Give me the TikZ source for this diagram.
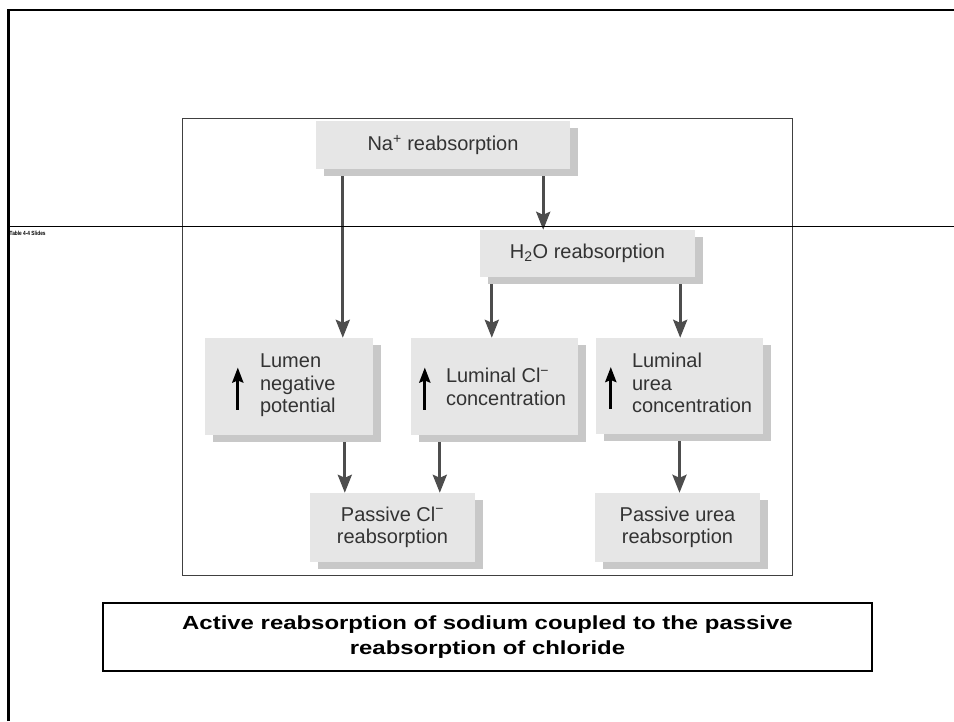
\documentclass[tikz,border=0pt]{standalone}
\usepackage{fontspec}
\setmainfont{Liberation Sans}
\newfontfamily\titlefont[FakeStretch=1.26]{Liberation Sans}
\newfontfamily\tagfont[FakeStretch=0.8]{Liberation Sans}
\usetikzlibrary{arrows.meta,shadows,calc}
\definecolor{boxfill}{HTML}{E6E6E6}
\definecolor{shadowgray}{HTML}{C8C8C8}
\definecolor{txtgray}{HTML}{333333}
\definecolor{arrgray}{HTML}{4D4D4D}
\begin{document}
\begin{tikzpicture}[x=1pt,y=-1pt,
  fbox/.style={draw=none, fill=boxfill, inner sep=0pt,
    drop shadow={shadow xshift=8pt, shadow yshift=-7pt, fill=shadowgray, opacity=1}},
  btext/.style={text=txtgray, font=\fontsize{20}{22.5}\selectfont, inner sep=0pt},
  flow/.style={draw=arrgray, line width=3pt, -{Stealth[length=18pt,width=14pt,inset=3pt]}},
  uparr/.style={draw=black, line width=3pt, -{Stealth[length=15pt,width=11pt,inset=2pt]}}
]
\useasboundingbox (0,0) rectangle (954,721);
\fill[white] (0,0) rectangle (954,721);

% inner picture frame
\draw[draw=black!75, line width=0.9pt] (182,118) rectangle (792,575);

% boxes
\node[fbox, btext, align=center, minimum width=254pt, minimum height=48pt] (na) at (443,145) {Na\textsuperscript{+} reabsorption};
\node[fbox, btext, align=center, minimum width=215pt, minimum height=47pt] (h2o) at (587.5,253.5) {H\textsubscript{2}O reabsorption};
\node[fbox, minimum width=168pt, minimum height=97pt] (lumen) at (289,386.5) {};
\node[fbox, minimum width=167pt, minimum height=97pt] (lcl) at (494.5,386.5) {};
\node[fbox, minimum width=167pt, minimum height=96pt] (urea) at (679.5,386) {};
\node[fbox, btext, align=center, minimum width=165pt, minimum height=69pt] (pcl) at (392.5,527.5) {Passive Cl\textsuperscript{−}\\reabsorption};
\node[fbox, btext, align=center, minimum width=165pt, minimum height=69pt] (purea) at (677.5,527.5) {Passive urea\\reabsorption};

% texts in the middle row
\node[btext, align=left, anchor=west] (lumentxt) at ($(lumen.west)+(55,-1)$) {Lumen\\negative\\potential};
\node[btext, align=left, anchor=west] (lcltxt) at ($(lcl.west)+(35,0.5)$) {Luminal Cl\textsuperscript{−}\\concentration};
\node[btext, align=left, anchor=west] (ureatxt) at ($(urea.west)+(36,-3)$) {Luminal\\urea\\concentration};

% up arrows inside boxes
\coordinate (u1) at ($(lumen.west)+(33,23)$);
\coordinate (u2) at ($(lcl.west)+(14,23)$);
\coordinate (u3) at ($(urea.west)+(15,23)$);
\draw[uparr] (u1) -- ++(0,-42);
\draw[uparr] (u2) -- ++(0,-42);
\draw[uparr] (u3) -- ++(0,-42);

% flow arrows
\coordinate (a1) at ($(na.south west)+(27,7)$);
\coordinate (a2) at ($(na.south east)+(-27,7)$);
\coordinate (a3) at ($(h2o.south west)+(12,7)$);
\coordinate (a4) at ($(h2o.south east)+(-15,7)$);
\coordinate (a5) at ($(lumen.south west)+(140,7)$);
\coordinate (a6) at ($(lcl.south west)+(29,7)$);
\coordinate (a7) at ($(urea.south)+(0,7)$);
\draw[flow] (a1) -- (a1 |- lumen.north);
\draw[flow] (a2) -- (a2 |- h2o.north);
\draw[flow] (a3) -- (a3 |- lcl.north);
\draw[flow] (a4) -- (a4 |- urea.north);
\draw[flow] (a5) -- (a5 |- pcl.north);
\draw[flow] (a6) -- (a6 |- pcl.north);
\draw[flow] (a7) -- (a7 |- purea.north);

% title box
\node[draw=black, line width=1.2pt, minimum width=769pt, minimum height=68pt, inner sep=0pt,
  font=\titlefont\bfseries\fontsize{19}{25}\selectfont, align=center] (title) at (487.5,637)
  {Active reabsorption of sodium coupled to the passive\\reabsorption of chloride};

% slide frame lines
\draw[line width=2.6pt] (8.5,721) -- (8.5,10) -- (954,10);
\draw[line width=1.3pt] (8.5,226.5) -- (954,226.5);
\node[font=\tagfont\bfseries\fontsize{6}{6}\selectfont, anchor=west, inner sep=0pt] (tag) at (9.5,233.5) {Table 4-4 Slides};
\end{tikzpicture}
\end{document}
